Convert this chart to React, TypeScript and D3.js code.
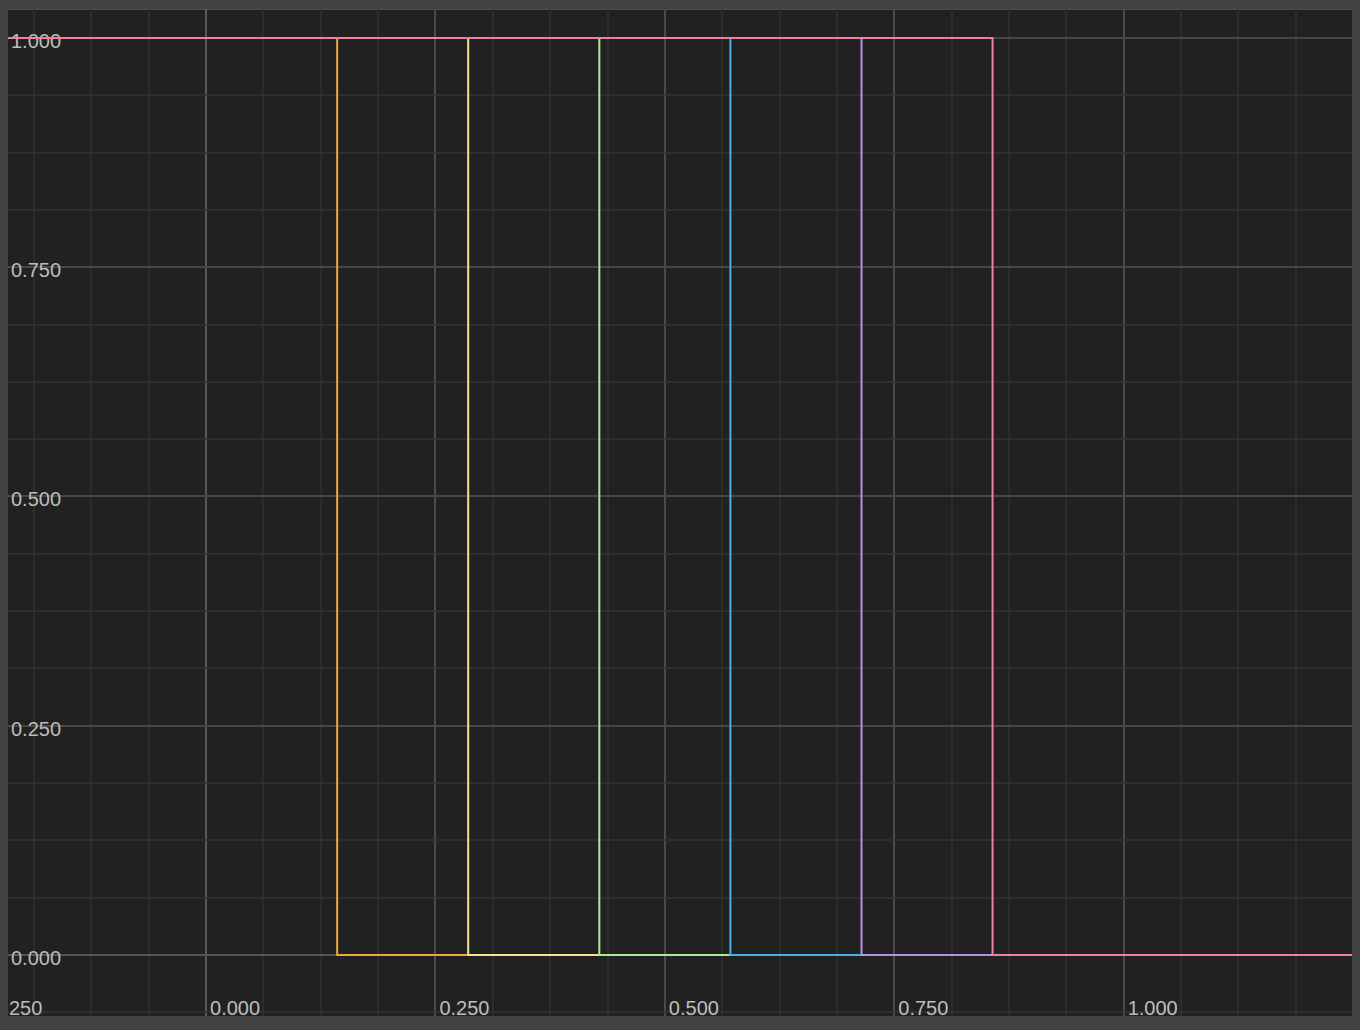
import * as d3 from 'd3'

// step thresholds (x where each curve drops from 1 to 0)
const thresholds = [0.1429, 0.2857, 0.4286, 0.5714, 0.7143, 0.8571]
const curveColors = ['#eaaa3c', '#f2e48a', '#aee9a2', '#4aaee8', '#b393e2', '#f07fa6']
const xLabels = [-0.25, 0, 0.25, 0.5, 0.75, 1]
const yLabels = [0, 0.25, 0.5, 0.75, 1]

const W = 1360
const H = 1030
const plot = { left: 8, top: 9, right: 1352, bottom: 1016 }

export default function App() {
  const x = d3.scaleLinear().domain([-0.2158, 1.2488]).range([plot.left, plot.right])
  const y = d3.scaleLinear().domain([-0.0672, 1.0313]).range([1016.5, 9.3])
  const fmt = d3.format('.3f')

  const step = 0.0625
  const xGrid = d3.range(-5, 21).map(i => i * step)
  const yGrid = d3.range(-1, 17).map(i => i * step)
  const isMajor = (v: number) => Math.abs(v / 0.25 - Math.round(v / 0.25)) < 1e-6

  const line = d3.line<[number, number]>()
    .x(d => x(d[0]))
    .y(d => y(d[1]))
    .curve(d3.curveStepAfter)

  const [x0, x1] = x.domain()

  return (
    <svg width={W} height={H} style={{ position: 'absolute', left: 0, top: 0, display: 'block' }}>
      <defs>
        <clipPath id="plotClip">
          <rect x={plot.left} y={plot.top} width={plot.right - plot.left} height={plot.bottom - plot.top} />
        </clipPath>
      </defs>
      <rect x={0} y={0} width={W} height={H} fill="#424242" />
      <rect x={plot.left} y={plot.top} width={plot.right - plot.left} height={plot.bottom - plot.top} fill="#212121" />
      <line x1={plot.left} x2={plot.right} y1={plot.top + 0.5} y2={plot.top + 0.5} stroke="#4e4e4e" />

      <g clipPath="url(#plotClip)">
        {xGrid.map(v => {
          const px = Math.round(x(v))
          const major = isMajor(v)
          return (
            <line key={'vx' + v} x1={px} x2={px} y1={plot.top} y2={plot.bottom}
              stroke={v === 0 ? '#595959' : major ? '#4a4a4a' : '#313131'}
              strokeWidth={major ? 2 : 1.5} />
          )
        })}
        {yGrid.map(v => {
          const py = Math.round(y(v))
          const major = isMajor(v)
          return (
            <line key={'hy' + v} x1={plot.left} x2={plot.right} y1={py} y2={py}
              stroke={v === 0 ? '#555555' : major ? '#474747' : '#333333'}
              strokeWidth={major ? 2 : 1.5} />
          )
        })}

        {yLabels.map(v => (
          <text key={'yl' + v} x={plot.left + 3} y={y(v) + 10}
            fill="#bdbdbd" fontSize={20} fontFamily="'Liberation Sans', Arial, sans-serif">
            {fmt(v)}
          </text>
        ))}
        {xLabels.map(v => (
          <text key={'xl' + v} x={x(v) + 4} y={plot.bottom - 1}
            fill="#bdbdbd" fontSize={20} fontFamily="'Liberation Sans', Arial, sans-serif">
            {fmt(v)}
          </text>
        ))}

        {thresholds.map((t, i) => (
          <path key={'c' + i}
            d={line([[x0 - 0.1, 1], [t, 0], [x1 + 0.1, 0]]) ?? ''}
            fill="none" stroke={curveColors[i]} strokeWidth={2} />
        ))}
      </g>
    </svg>
  )
}
